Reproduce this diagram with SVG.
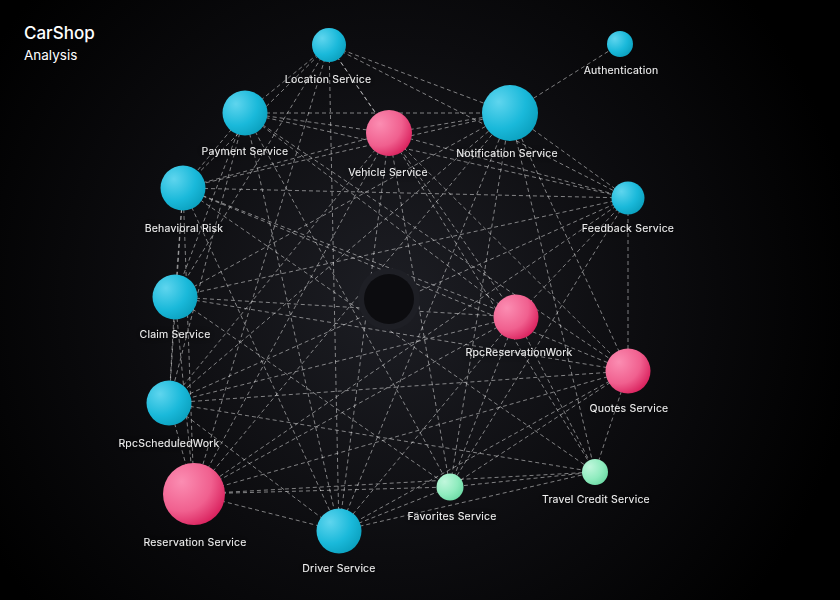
<svg xmlns="http://www.w3.org/2000/svg" width="840" height="600" viewBox="0 0 840 600">
<defs>
<radialGradient id="bg" cx="390" cy="300" r="470" gradientUnits="userSpaceOnUse">
<stop offset="0" stop-color="#1d1e24"/>
<stop offset="0.55" stop-color="#0c0c0f"/>
<stop offset="1" stop-color="#000000"/>
</radialGradient>
<radialGradient id="cyan" cx="0.3" cy="0.3" r="0.8">
<stop offset="0" stop-color="#5fd5ee"/>
<stop offset="0.6" stop-color="#1ab9da"/>
<stop offset="1" stop-color="#0a9fbd"/>
</radialGradient>
<radialGradient id="pink" cx="0.3" cy="0.3" r="0.8">
<stop offset="0" stop-color="#fb8db2"/>
<stop offset="0.6" stop-color="#f0608f"/>
<stop offset="1" stop-color="#d81d5a"/>
</radialGradient>
<radialGradient id="green" cx="0.3" cy="0.3" r="0.8">
<stop offset="0" stop-color="#c0f7dc"/>
<stop offset="0.6" stop-color="#90ecbf"/>
<stop offset="1" stop-color="#6bd9a4"/>
</radialGradient>
<filter id="lblshadow" x="-30%" y="-80%" width="160%" height="260%">
<feDropShadow dx="0" dy="0" stdDeviation="4" flood-color="#000" flood-opacity="1"/>
</filter>
</defs>
<style>
.edge{stroke:#ffffff;stroke-opacity:0.6;stroke-width:0.8;stroke-dasharray:4 3;fill:none}
.lbl{font-family:Inter,"Liberation Sans",sans-serif;font-size:10.5px;letter-spacing:0.2px;fill:#f2f2f2;text-anchor:middle;filter:url(#lblshadow)}
.title{font-family:Inter,"Liberation Sans",sans-serif;fill:#ffffff}
</style>
<rect width="840" height="600" fill="url(#bg)"/>
<text class="title" x="24" y="39" font-size="17" font-weight="500">CarShop</text>
<text class="title" x="24" y="60" font-size="13.5" fill="#dddddd">Analysis</text>
<g id="connectors">
<line class="edge" x1="620" y1="44" x2="510" y2="113"/>
<line class="edge" x1="329" y1="45" x2="245" y2="113"/>
<line class="edge" x1="329" y1="45" x2="389" y2="133"/>
<line class="edge" x1="329" y1="45" x2="510" y2="113"/>
<line class="edge" x1="329" y1="45" x2="183" y2="188"/>
<line class="edge" x1="329" y1="45" x2="175" y2="297"/>
<line class="edge" x1="329" y1="45" x2="339" y2="531"/>
<line class="edge" x1="329" y1="45" x2="194" y2="494"/>
<line class="edge" x1="329" y1="45" x2="516" y2="317"/>
<line class="edge" x1="329" y1="45" x2="628" y2="198"/>
<line class="edge" x1="245" y1="113" x2="510" y2="113"/>
<line class="edge" x1="245" y1="113" x2="389" y2="133"/>
<line class="edge" x1="245" y1="113" x2="628" y2="198"/>
<line class="edge" x1="245" y1="113" x2="183" y2="188"/>
<line class="edge" x1="245" y1="113" x2="175" y2="297"/>
<line class="edge" x1="245" y1="113" x2="169" y2="403"/>
<line class="edge" x1="245" y1="113" x2="339" y2="531"/>
<line class="edge" x1="245" y1="113" x2="516" y2="317"/>
<line class="edge" x1="245" y1="113" x2="628" y2="371"/>
<line class="edge" x1="245" y1="113" x2="450" y2="487"/>
<line class="edge" x1="389" y1="133" x2="510" y2="113"/>
<line class="edge" x1="389" y1="133" x2="628" y2="198"/>
<line class="edge" x1="389" y1="133" x2="183" y2="188"/>
<line class="edge" x1="389" y1="133" x2="339" y2="531"/>
<line class="edge" x1="389" y1="133" x2="194" y2="494"/>
<line class="edge" x1="389" y1="133" x2="628" y2="371"/>
<line class="edge" x1="389" y1="133" x2="595" y2="472"/>
<line class="edge" x1="389" y1="133" x2="450" y2="487"/>
<line class="edge" x1="389" y1="133" x2="169" y2="403"/>
<line class="edge" x1="510" y1="113" x2="628" y2="198"/>
<line class="edge" x1="510" y1="113" x2="183" y2="188"/>
<line class="edge" x1="510" y1="113" x2="339" y2="531"/>
<line class="edge" x1="510" y1="113" x2="194" y2="494"/>
<line class="edge" x1="510" y1="113" x2="450" y2="487"/>
<line class="edge" x1="510" y1="113" x2="595" y2="472"/>
<line class="edge" x1="510" y1="113" x2="175" y2="297"/>
<line class="edge" x1="510" y1="113" x2="628" y2="371"/>
<line class="edge" x1="510" y1="113" x2="169" y2="403"/>
<line class="edge" x1="183" y1="188" x2="628" y2="198"/>
<line class="edge" x1="183" y1="188" x2="175" y2="297"/>
<line class="edge" x1="183" y1="188" x2="169" y2="403"/>
<line class="edge" x1="183" y1="188" x2="516" y2="317"/>
<line class="edge" x1="183" y1="188" x2="628" y2="371"/>
<line class="edge" x1="183" y1="188" x2="194" y2="494"/>
<line class="edge" x1="183" y1="188" x2="339" y2="531"/>
<line class="edge" x1="183" y1="188" x2="595" y2="472"/>
<line class="edge" x1="628" y1="198" x2="175" y2="297"/>
<line class="edge" x1="628" y1="198" x2="516" y2="317"/>
<line class="edge" x1="628" y1="198" x2="194" y2="494"/>
<line class="edge" x1="628" y1="198" x2="450" y2="487"/>
<line class="edge" x1="628" y1="198" x2="169" y2="403"/>
<line class="edge" x1="628" y1="198" x2="628" y2="371"/>
<line class="edge" x1="175" y1="297" x2="516" y2="317"/>
<line class="edge" x1="175" y1="297" x2="169" y2="403"/>
<line class="edge" x1="175" y1="297" x2="194" y2="494"/>
<line class="edge" x1="175" y1="297" x2="628" y2="371"/>
<line class="edge" x1="175" y1="297" x2="450" y2="487"/>
<line class="edge" x1="516" y1="317" x2="169" y2="403"/>
<line class="edge" x1="516" y1="317" x2="194" y2="494"/>
<line class="edge" x1="516" y1="317" x2="450" y2="487"/>
<line class="edge" x1="516" y1="317" x2="339" y2="531"/>
<line class="edge" x1="516" y1="317" x2="595" y2="472"/>
<line class="edge" x1="628" y1="371" x2="194" y2="494"/>
<line class="edge" x1="628" y1="371" x2="595" y2="472"/>
<line class="edge" x1="628" y1="371" x2="169" y2="403"/>
<line class="edge" x1="628" y1="371" x2="339" y2="531"/>
<line class="edge" x1="628" y1="371" x2="450" y2="487"/>
<line class="edge" x1="169" y1="403" x2="194" y2="494"/>
<line class="edge" x1="169" y1="403" x2="339" y2="531"/>
<line class="edge" x1="169" y1="403" x2="595" y2="472"/>
<line class="edge" x1="194" y1="494" x2="339" y2="531"/>
<line class="edge" x1="194" y1="494" x2="450" y2="487"/>
<line class="edge" x1="194" y1="494" x2="595" y2="472"/>
<line class="edge" x1="339" y1="531" x2="450" y2="487"/>
<line class="edge" x1="339" y1="531" x2="595" y2="472"/>
<line class="edge" x1="450" y1="487" x2="595" y2="472"/>
</g>
<g id="node-center">
<circle cx="389" cy="299" r="31" fill="#1e1f25"/>
<circle cx="389" cy="299" r="25" fill="#0c0c0f"/>
</g>
<g id="node-location"><circle cx="329" cy="45" r="17" fill="url(#cyan)"/><text class="lbl" x="328" y="83">Location Service</text></g>
<g id="node-authentication"><circle cx="620" cy="44" r="13" fill="url(#cyan)"/><text class="lbl" x="621" y="74">Authentication</text></g>
<g id="node-payment"><circle cx="245" cy="113" r="22.5" fill="url(#cyan)"/><text class="lbl" x="245" y="155">Payment Service</text></g>
<g id="node-vehicle"><circle cx="389" cy="133" r="23" fill="url(#pink)"/><text class="lbl" x="388" y="176">Vehicle Service</text></g>
<g id="node-notification"><circle cx="510" cy="113" r="28" fill="url(#cyan)"/><text class="lbl" x="507" y="157">Notification Service</text></g>
<g id="node-behavioral"><circle cx="183" cy="188" r="22.5" fill="url(#cyan)"/><text class="lbl" x="184" y="232">Behavioral Risk</text></g>
<g id="node-feedback"><circle cx="628" cy="198" r="16.5" fill="url(#cyan)"/><text class="lbl" x="628" y="232">Feedback Service</text></g>
<g id="node-claim"><circle cx="175" cy="297" r="22.5" fill="url(#cyan)"/><text class="lbl" x="175" y="338">Claim Service</text></g>
<g id="node-rpcreservationwork"><circle cx="516" cy="317" r="22.5" fill="url(#pink)"/><text class="lbl" x="519" y="356">RpcReservationWork</text></g>
<g id="node-quotes"><circle cx="628" cy="371" r="22.5" fill="url(#pink)"/><text class="lbl" x="629" y="412">Quotes Service</text></g>
<g id="node-rpcscheduledwork"><circle cx="169" cy="403" r="22.5" fill="url(#cyan)"/><text class="lbl" x="169" y="447">RpcScheduledWork</text></g>
<g id="node-reservation"><circle cx="194" cy="494" r="31" fill="url(#pink)"/><text class="lbl" x="195" y="546">Reservation Service</text></g>
<g id="node-driver"><circle cx="339" cy="531" r="22.5" fill="url(#cyan)"/><text class="lbl" x="339" y="572">Driver Service</text></g>
<g id="node-favorites"><circle cx="450" cy="487" r="13.5" fill="url(#green)"/><text class="lbl" x="452" y="520">Favorites Service</text></g>
<g id="node-travelcredit"><circle cx="595" cy="472" r="13" fill="url(#green)"/><text class="lbl" x="596" y="503">Travel Credit Service</text></g>
</svg>
